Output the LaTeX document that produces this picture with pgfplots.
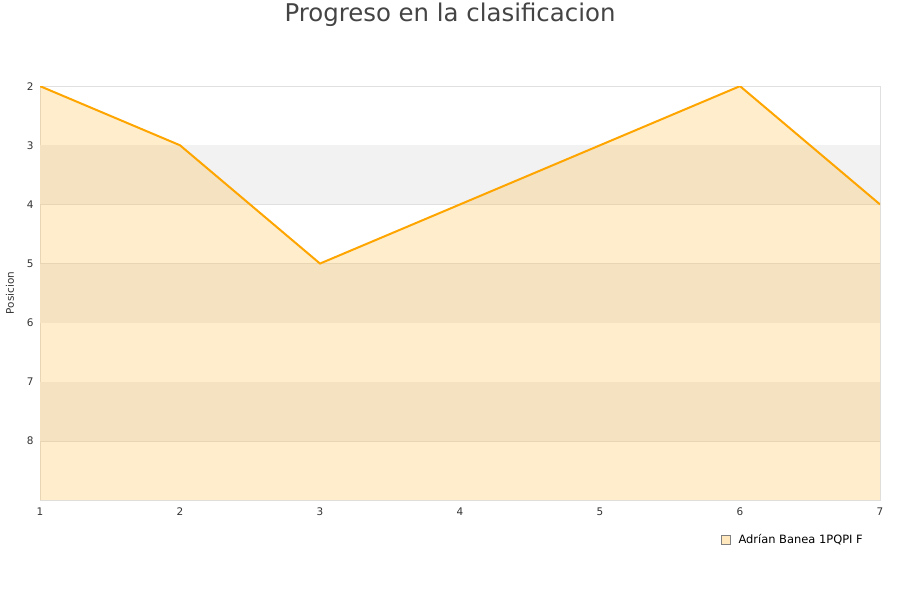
\documentclass[border=0pt]{standalone}
\usepackage{pgfplots}
\pgfplotsset{compat=1.18}
\usepackage{fontspec}
\setmainfont{DejaVu Sans}
\definecolor{linecol}{RGB}{255,165,0}
\definecolor{areacol}{RGB}{255,177,34}
\definecolor{bandcol}{RGB}{242,242,242}
\definecolor{gridcol}{RGB}{224,224,224}
\definecolor{txtcol}{RGB}{51,51,51}
\definecolor{titlecol}{RGB}{68,68,68}

\begin{document}
\begin{tikzpicture}
\begin{axis}[
    at={(0,0)}, anchor=south west,
    scale only axis,
    width=840bp, height=414bp,
    xmin=1, xmax=7, ymin=2, ymax=9,
    y dir=reverse,
    xtick={1,...,7},
    ytick={2,...,8},
    major tick length=0pt,
    axis line style={draw=gridcol},
    ymajorgrids, grid style={draw=gridcol, line width=0.6pt},
    tick label style={font=\fontsize{10.5}{12}\selectfont, text=txtcol},
    /pgf/number format/assume math mode=true,
    yticklabel style={xshift=-3bp},
    xticklabel style={yshift=-4bp},
    legend style={at={(rel axis cs:1,0)}, anchor=north east, xshift=-12bp, yshift=-30bp,
        draw=none, fill=none, font=\fontsize{11.5}{13}\selectfont, text=black},
    legend cell align=left,
    clip=true,
]
\fill[bandcol] (axis cs:1,3) rectangle (axis cs:7,4);
\fill[bandcol] (axis cs:1,5) rectangle (axis cs:7,6);
\fill[bandcol] (axis cs:1,7) rectangle (axis cs:7,8);
\addplot[draw=none, fill=areacol, fill opacity=0.23, forget plot]
    coordinates {(1,9) (1,2) (2,3) (3,5) (4,4) (5,3) (6,2) (7,4) (7,9)} -- cycle;
\addplot[linecol, line width=2bp,
    legend image code/.code={\path[draw=gray, fill=areacol!30, line width=0.6pt] (0bp,-4.5bp) rectangle (9bp,4.5bp);
        \path[draw=none] (0bp,0bp) -- (15bp,0bp);}]
    coordinates {(1,2) (2,3) (3,5) (4,4) (5,3) (6,2) (7,4)};
\addlegendentry{Adrían Banea 1PQPI F}
\end{axis}
\node[rotate=90, text=txtcol, font=\fontsize{10.5}{12}\selectfont] at (-30bp,207bp) {Posicion};
\node[text=titlecol, font=\fontsize{24.5}{28}\selectfont] at (410bp,485bp) {Progreso en la clasificacion};
\path (-40bp,-100bp) rectangle (860bp,500bp);
\end{tikzpicture}
\end{document}
